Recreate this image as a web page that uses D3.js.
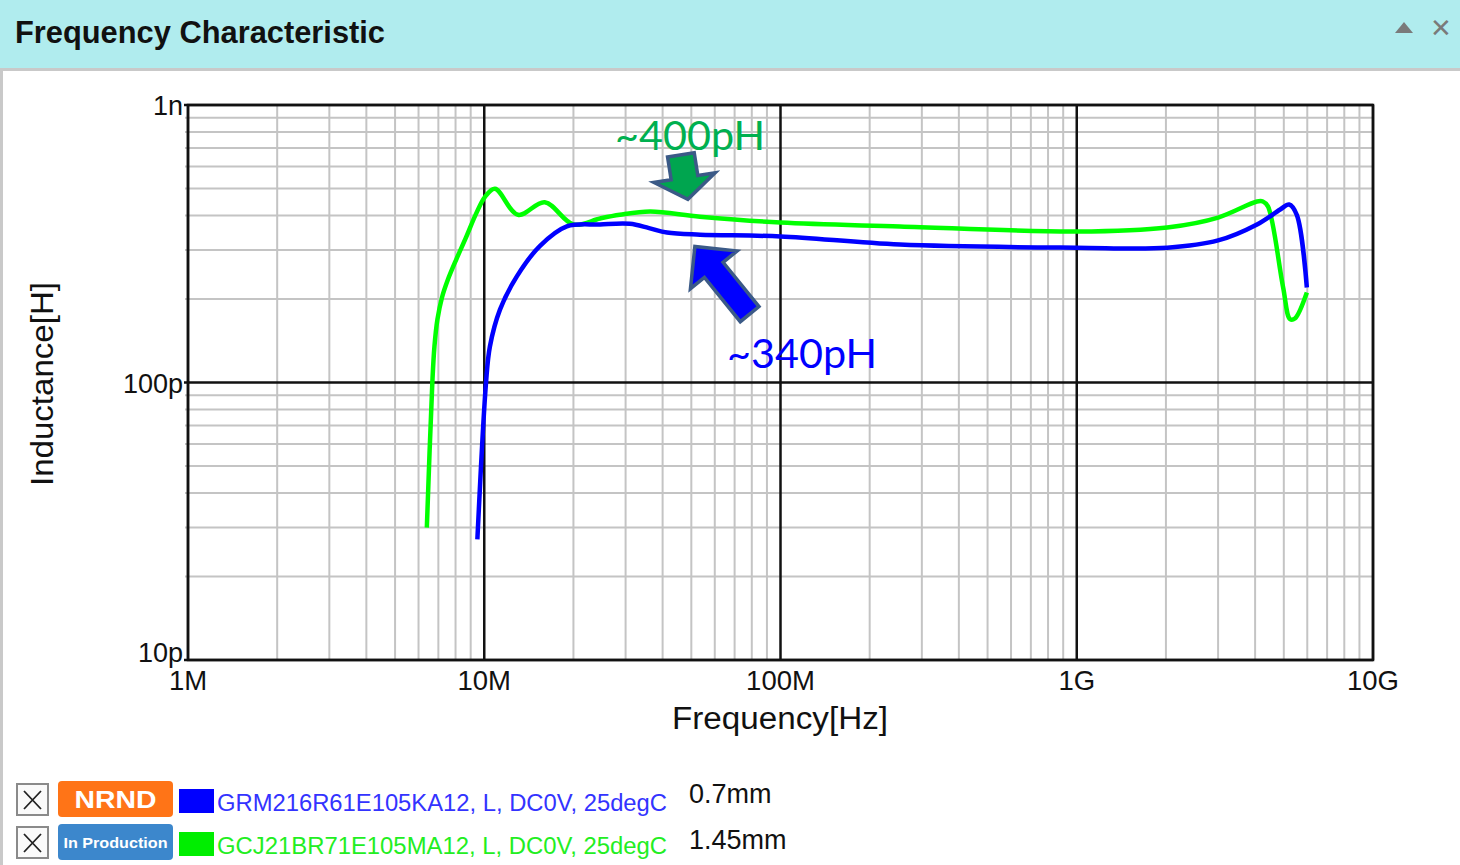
<!DOCTYPE html>
<html><head><meta charset="utf-8">
<script src="https://cdn.jsdelivr.net/npm/d3@7"></script>
<style>html,body{margin:0;padding:0;background:#fff;}svg{display:block;}</style>
</head><body>
<svg id="chart" width="1460" height="865"></svg>
<script>
// ---- data ----
const title = "Frequency Characteristic";
const xTickValues = [1e6, 1e7, 1e8, 1e9, 1e10];
const xTickLabels = ["1M", "10M", "100M", "1G", "10G"];
const yTickValues = [1e-11, 1e-10, 1e-9];
const yTickLabels = ["10p", "100p", "1n"];
const xAxisTitle = "Frequency[Hz]";
const yAxisTitle = "Inductance[H]";

// GRM216R61E105KA12 (blue)
const blueFreq = [9.48e6, 10.14e6, 10.45e6, 11.3e6, 12.9e6, 15.4e6, 19.0e6, 24.6e6, 31e6, 36e6, 41.4e6, 53.5e6, 100e6, 253e6, 1e9, 2.02e9, 3.0e9, 4.06e9, 4.86e9, 5.21e9, 5.53e9, 5.98e9];
const blueInd  = [27.2, 100, 134.8, 183, 241.7, 310, 365, 371, 373, 360, 347, 341, 336, 314, 306, 306, 325, 371, 420, 438, 402, 220]; // pH

// GCJ21BR71E105MA12 (green)
const greenFreq = [6.40e6, 6.68e6, 6.79e6, 6.95e6, 7.20e6, 7.54e6, 8.03e6, 8.68e6, 9.38e6, 10.06e6, 10.87e6, 13.0e6, 16.0e6, 20.0e6, 24.6e6, 28.7e6, 36.3e6, 53.5e6, 100e6, 253e6, 1e9, 2.02e9, 3.0e9, 4.06e9, 4.25e9, 4.42e9, 4.97e9, 5.25e9, 5.45e9, 5.98e9];
const greenInd  = [30.0, 100, 134.8, 168.7, 202.5, 234.9, 276.3, 333.4, 405.2, 466.8, 499, 402, 446, 371, 390, 402, 413, 396, 377, 365, 350, 362, 393, 449, 449, 431, 221, 169, 170, 211]; // pH

const legendNames = ["GRM216R61E105KA12, L, DC0V, 25degC", "GCJ21BR71E105MA12, L, DC0V, 25degC"];
const legendSizes = ["0.7mm", "1.45mm"];
const legendStatus = ["NRND", "In Production"];

const annotLabels = ["~400pH", "~340pH"];
const annotTipFreq = [48.7e6, 51.4e6];
const annotTipInd = [457, 309]; // pH

// ---- layout ----
const svg = d3.select("#chart");
const W = 1460, H = 865;
const plot = {left: 188, right: 1373, top: 105, bottom: 660};
const x = d3.scaleLog().domain([1e6, 1e10]).range([plot.left, plot.right]);
const y = d3.scaleLog().domain([1e-11, 1e-9]).range([plot.bottom, plot.top]);

// header
svg.append("rect").attr("x", 0).attr("y", 0).attr("width", W).attr("height", 69).attr("fill", "#b0ecee");
svg.append("line").attr("x1", 0).attr("x2", W).attr("y1", 69.5).attr("y2", 69.5).attr("stroke", "#c9c9c9").attr("stroke-width", 3);
svg.append("line").attr("x1", 1.5).attr("x2", 1.5).attr("y1", 70).attr("y2", H).attr("stroke", "#c9c9c9").attr("stroke-width", 3);
svg.append("text").attr("x", 15).attr("y", 43).text(title)
  .attr("font-family", "Liberation Sans, Arial, sans-serif").attr("font-weight", "bold")
  .attr("font-size", 31).attr("textLength", 370).attr("lengthAdjust", "spacingAndGlyphs").attr("fill", "#111");
svg.append("path").attr("d", "M1395,33 L1404,22 L1413,33 Z").attr("fill", "#7a7a7a");
svg.append("text").attr("x", 1441).attr("y", 37).attr("text-anchor", "middle").text("✕")
  .attr("font-family", "DejaVu Sans, sans-serif").attr("font-weight", "bold").attr("font-size", 26).attr("fill", "#7a7a7a");

// grid
const g = svg.append("g");
const minorX = [];
for (let e = 6; e < 10; e++) for (let k = 2; k <= 9; k++) minorX.push(k * Math.pow(10, e));
const minorY = [];
for (let e = -11; e < -9; e++) for (let k = 2; k <= 9; k++) minorY.push(k * Math.pow(10, e));
g.selectAll(".mx").data(minorX).join("line").attr("class", "mx")
  .attr("x1", d => x(d)).attr("x2", d => x(d)).attr("y1", plot.top).attr("y2", plot.bottom)
  .attr("stroke", "#c4c4c4").attr("stroke-width", 2);
g.selectAll(".my").data(minorY).join("line").attr("class", "my")
  .attr("x1", plot.left - 3).attr("x2", plot.right).attr("y1", d => y(d)).attr("y2", d => y(d))
  .attr("stroke", "#c4c4c4").attr("stroke-width", 2);
g.selectAll(".Mx").data(xTickValues).join("line").attr("class", "Mx")
  .attr("x1", d => x(d)).attr("x2", d => x(d)).attr("y1", plot.top).attr("y2", plot.bottom)
  .attr("stroke", "#111").attr("stroke-width", 2.5);
g.selectAll(".My").data(yTickValues).join("line").attr("class", "My")
  .attr("x1", plot.left - 4).attr("x2", plot.right).attr("y1", d => y(d)).attr("y2", d => y(d))
  .attr("stroke", "#111").attr("stroke-width", 2.5);
g.append("rect").attr("x", plot.left).attr("y", plot.top).attr("width", plot.right - plot.left).attr("height", plot.bottom - plot.top)
  .attr("fill", "none").attr("stroke", "#111").attr("stroke-width", 2.5);

// tick labels
const font = "Liberation Sans, Arial, sans-serif";
svg.selectAll(".xl").data(xTickValues).join("text").attr("class", "xl")
  .attr("x", d => x(d)).attr("y", 690).attr("text-anchor", "middle")
  .attr("font-family", font).attr("font-size", 27.5).attr("fill", "#111")
  .text((d, i) => xTickLabels[i]);
svg.selectAll(".yl").data(yTickValues).join("text").attr("class", "yl")
  .attr("x", plot.left - 5).attr("y", (d, i) => y(d) + (i === 0 ? 2 : 10)).attr("text-anchor", "end")
  .attr("font-family", font).attr("font-size", 27).attr("fill", "#111")
  .text((d, i) => yTickLabels[i]);
svg.append("text").attr("x", 780).attr("y", 729).attr("text-anchor", "middle")
  .attr("font-family", font).attr("font-size", 31).attr("fill", "#111")
  .attr("textLength", 216).attr("lengthAdjust", "spacingAndGlyphs").text(xAxisTitle);
svg.append("text").attr("transform", "translate(53,384) rotate(-90)").attr("text-anchor", "middle")
  .attr("font-family", font).attr("font-size", 31).attr("fill", "#111")
  .attr("textLength", 204).attr("lengthAdjust", "spacingAndGlyphs").text(yAxisTitle);

// curves
const line = d3.line().x(d => x(d[0])).y(d => y(d[1] * 1e-12)).curve(d3.curveCatmullRom.alpha(0.5));
const series = [
  {f: greenFreq, v: greenInd, color: "#00ff00"},
  {f: blueFreq, v: blueInd, color: "#0000ff"}
];
svg.append("g").selectAll("path").data(series).join("path")
  .attr("d", s => line(s.f.map((f, i) => [f, s.v[i]])))
  .attr("fill", "none").attr("stroke", s => s.color).attr("stroke-width", 4.5).attr("stroke-linejoin", "round");

// annotation arrows (shape in local frame: tip at origin, pointing +x)
function arrowPath(len, headLen, headHalf, shaftHalf) {
  return `M0,0 L${-headLen},${-headHalf} L${-headLen},${-shaftHalf} L${-len},${-shaftHalf} L${-len},${shaftHalf} L${-headLen},${shaftHalf} L${-headLen},${headHalf} Z`;
}
const arrows = [
  {i: 0, angle: 81, len: 45, hl: 22, hh: 31, sh: 13.5, fill: "#00a54f"},
  {i: 1, angle: -129, len: 87, hl: 30, hh: 30, sh: 12, fill: "#0000ff"}
];
svg.append("g").selectAll("path").data(arrows).join("path")
  .attr("transform", a => `translate(${x(annotTipFreq[a.i])},${y(annotTipInd[a.i] * 1e-12)}) rotate(${a.angle})`)
  .attr("d", a => arrowPath(a.len, a.hl, a.hh, a.sh))
  .attr("fill", a => a.fill).attr("stroke", "#3b5a87").attr("stroke-width", 3.5).attr("stroke-linejoin", "miter");

const annFont = "Lato, Carlito, Open Sans, sans-serif";
svg.append("text").attr("x", 615).attr("y", 150).text(annotLabels[0])
  .attr("font-family", annFont).attr("font-size", 41).attr("fill", "#00b050")
  .attr("textLength", 150).attr("lengthAdjust", "spacingAndGlyphs");
svg.append("text").attr("x", 727).attr("y", 368).text(annotLabels[1])
  .attr("font-family", annFont).attr("font-size", 41).attr("fill", "#0000ff")
  .attr("textLength", 150).attr("lengthAdjust", "spacingAndGlyphs");

// legend
const rowsY = [782, 825];
const swatch = ["#0000ff", "#00ee00"];
const textCol = ["#3333ff", "#22ee22"];
const badgeCol = ["#ff7417", "#3c87cc"];
const lg = svg.append("g");
rowsY.forEach((ry, i) => {
  lg.append("rect").attr("x", 17).attr("y", ry + 2).attr("width", 31).attr("height", 31)
    .attr("fill", "#fafafa").attr("stroke", "#8a8a8a").attr("stroke-width", 2);
  lg.append("path").attr("d", `M${24},${ry + 9} L${41},${ry + 27} M${41},${ry + 9} L${24},${ry + 27}`)
    .attr("stroke", "#222").attr("stroke-width", 1.8);
  lg.append("rect").attr("x", 58).attr("y", ry - 1).attr("width", 115).attr("height", 36).attr("rx", 4)
    .attr("fill", badgeCol[i]);
  lg.append("text").attr("x", 115.5).attr("y", i === 0 ? ry + 26 : ry + 23).attr("text-anchor", "middle")
    .attr("font-family", font).attr("font-weight", "bold").attr("font-size", i === 0 ? 24 : 15)
    .attr("fill", "#fff").attr("textLength", i === 0 ? 82 : 104).attr("lengthAdjust", "spacingAndGlyphs")
    .text(legendStatus[i]);
  lg.append("rect").attr("x", 179).attr("y", ry + 7).attr("width", 35).attr("height", 24).attr("fill", swatch[i]);
  lg.append("text").attr("x", 217).attr("y", ry + 29).text(legendNames[i])
    .attr("font-family", font).attr("font-size", 23).attr("fill", textCol[i])
    .attr("textLength", 450).attr("lengthAdjust", "spacingAndGlyphs");
  lg.append("text").attr("x", 689).attr("y", i === 0 ? 803 : 849).text(legendSizes[i])
    .attr("font-family", font).attr("font-size", 27).attr("fill", "#111");
});
</script>
</body></html>
